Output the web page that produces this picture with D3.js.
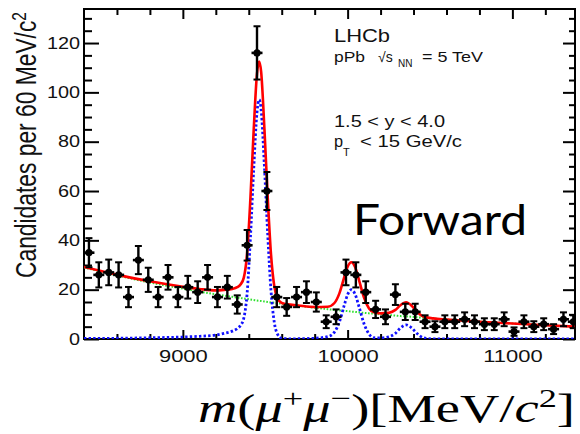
<!DOCTYPE html>
<html>
<head>
<meta charset="utf-8">
<script src="https://cdn.jsdelivr.net/npm/d3@7"></script>
<style>
  html, body { margin: 0; padding: 0; background: #fff; }
  svg { display: block; }
</style>
</head>
<body>
<svg id="chart" width="580" height="434"></svg>
<script>
/** Bin centres (60 MeV bins) of the dimuon mass histogram. */
const massBins = [8430, 8490, 8550, 8610, 8670, 8730, 8790, 8850, 8910, 8970,
  9030, 9090, 9150, 9210, 9270, 9330, 9390, 9450, 9510, 9570,
  9630, 9690, 9750, 9810, 9870, 9930, 9990, 10050, 10110, 10170,
  10230, 10290, 10350, 10410, 10470, 10530, 10590, 10650, 10710, 10770,
  10830, 10890, 10950, 11010, 11070, 11130, 11190, 11250, 11310, 11370];
/** Candidates per bin. */
const counts = [35, 26, 27, 26, 17, 32, 24, 17, 25, 17,
  21, 19, 25, 17, 21, 14, 38, 116, 60, 17,
  13, 17, 19, 15, 7, 9, 27, 26, 19, 12,
  9, 18, 11, 11, 7, 5, 7, 7, 8, 7,
  6, 6, 8, 3, 7, 5, 6, 4, 8, 7];
/** Error bar half-length per bin. */
const errors = [5.9, 5.1, 5.2, 5.1, 4.1, 5.7, 4.9, 4.1, 5.0, 4.1,
  4.6, 4.4, 5.0, 4.1, 4.6, 3.7, 6.2, 10.8, 7.7, 4.1,
  3.6, 4.1, 4.4, 3.9, 2.6, 3.0, 5.2, 5.1, 4.4, 3.5,
  3.0, 4.2, 3.3, 3.3, 2.6, 2.2, 2.6, 2.6, 2.8, 2.6,
  2.4, 2.4, 2.8, 1.7, 2.6, 2.2, 2.4, 2.0, 2.8, 2.6];

const fitMass = [8400, 8600, 8800, 9000, 9100, 9200, 9250, 9300, 9330, 9350,
  9370, 9390, 9410, 9430, 9450, 9463, 9475, 9495, 9515, 9535,
  9555, 9575, 9600, 9650, 9700, 9800, 9880, 9920, 9950, 9980,
  10000, 10023, 10045, 10070, 10100, 10130, 10160, 10200, 10250, 10290,
  10320, 10355, 10390, 10420, 10460, 10520, 10600, 10800, 11000, 11200, 11380];
/** Combinatorial background (green dotted). */
const fitBackground = [29.0, 25.8, 22.9, 20.4, 19.2, 18.1, 17.6, 17.1, 16.8, 16.6,
  16.4, 16.2, 16.0, 15.8, 15.6, 15.5, 15.4, 15.2, 15.0, 14.8,
  14.7, 14.5, 14.3, 13.9, 13.5, 12.7, 12.1, 11.8, 11.6, 11.4,
  11.3, 11.1, 11.0, 10.8, 10.6, 10.4, 10.3, 10.0, 9.7, 9.5,
  9.3, 9.2, 9.0, 8.8, 8.6, 8.3, 7.9, 7.0, 6.3, 5.6, 5.0];
/** Upsilon(1S,2S,3S) signal (blue dotted). */
const fitSignal = [0.2, 0.3, 0.5, 0.8, 1.1, 1.6, 2.3, 3.2, 4.2, 5.5,
  8.5, 18.5, 41, 69, 92, 97, 93, 70, 42.5, 19.5,
  6.7, 1.9, 0.3, 0.05, 0.1, 0.3, 1.0, 2.8, 6.9, 13.8,
  18, 20, 18.2, 12.9, 6.1, 2.0, 0.5, 0.4, 0.9, 2.3,
  4.4, 5.7, 4.4, 2.3, 0.5, 0.05, 0, 0, 0, 0, 0];
/** Total fit (red). */
const fitTotal = [29.2, 26.1, 23.4, 21.2, 20.3, 19.7, 19.9, 20.3, 21.0, 22.1,
  24.9, 34.7, 57.0, 84.8, 107.6, 112.5, 108.4, 85.2, 57.5, 34.3,
  21.4, 16.4, 14.6, 13.95, 13.6, 13.0, 13.1, 14.6, 18.5, 25.2,
  29.3, 31.1, 29.2, 23.7, 16.7, 12.4, 10.8, 10.4, 10.6, 11.8,
  13.7, 14.9, 13.4, 11.1, 9.1, 8.35, 7.9, 7.0, 6.3, 5.6, 5.0];

/** Axis tick labels. */
const xTickLabels = [9000, 10000, 11000];
const yTickLabels = [0, 20, 40, 60, 80, 100, 120];

const svg = d3.select("#chart");
const sans = "'Liberation Sans', Arial, sans-serif";
const frame = { left: 84, right: 575, top: 9, bottom: 339 };

const x = d3.scaleLinear().domain([8400, 11380]).range([frame.left, frame.right]);
const y = d3.scaleLinear().domain([0, 133.8]).range([frame.bottom, frame.top]);

/** Stretch text horizontally (the original picture was widened). */
function widen(sel, k) {
  sel.each(function () {
    const w = this.getComputedTextLength();
    this.setAttribute("textLength", w * k);
    this.setAttribute("lengthAdjust", "spacingAndGlyphs");
  });
}
function fitWidth(sel, w) {
  sel.attr("textLength", w).attr("lengthAdjust", "spacingAndGlyphs");
}

const xMinor = d3.range(8600, 11380, 200).filter((v) => v % 1000 !== 0);
const yMinor = d3.range(5, 134, 5).filter((v) => v % 20 !== 0);

function styleAxis(g) {
  g.select(".domain").remove();
  g.selectAll("line").attr("stroke", "#000").attr("stroke-width", 2);
}

// left
svg.append("g").attr("transform", `translate(${frame.left},0)`)
  .call(d3.axisLeft(y).tickValues(yMinor).tickSize(-8).tickFormat(""))
  .call(styleAxis);
const gLeft = svg.append("g").attr("transform", `translate(${frame.left},0)`)
  .call(d3.axisLeft(y).tickValues(yTickLabels).tickSize(-15).tickPadding(4))
  .call(styleAxis);
gLeft.selectAll("text").attr("font-family", sans).attr("font-size", 16).attr("fill", "#111")
  .call(widen, 1.24);

// right
svg.append("g").attr("transform", `translate(${frame.right},0)`)
  .call(d3.axisRight(y).tickValues(yMinor).tickSize(-6).tickFormat(""))
  .call(styleAxis);
svg.append("g").attr("transform", `translate(${frame.right},0)`)
  .call(d3.axisRight(y).tickValues(yTickLabels).tickSize(-12).tickFormat(""))
  .call(styleAxis);

// bottom
svg.append("g").attr("transform", `translate(0,${frame.bottom})`)
  .call(d3.axisBottom(x).tickValues(xMinor).tickSize(-5).tickFormat(""))
  .call(styleAxis);
const gBottom = svg.append("g").attr("transform", `translate(0,${frame.bottom})`)
  .call(d3.axisBottom(x).tickValues(xTickLabels).tickSize(-9).tickPadding(11).tickFormat(d3.format("d")))
  .call(styleAxis);
gBottom.selectAll("text").attr("font-family", sans).attr("font-size", 16.5).attr("fill", "#111")
  .call(widen, 1.33);

// top
svg.append("g").attr("transform", `translate(0,${frame.top})`)
  .call(d3.axisTop(x).tickValues(xMinor).tickSize(-6).tickFormat(""))
  .call(styleAxis);
svg.append("g").attr("transform", `translate(0,${frame.top})`)
  .call(d3.axisTop(x).tickValues(xTickLabels).tickSize(-10).tickFormat(""))
  .call(styleAxis);

// frame
svg.append("rect")
  .attr("x", frame.left).attr("y", frame.top)
  .attr("width", frame.right - frame.left).attr("height", frame.bottom - frame.top)
  .attr("fill", "none").attr("stroke", "#000").attr("stroke-width", 2);

svg.append("clipPath").attr("id", "plotClip").append("rect")
  .attr("x", frame.left).attr("y", frame.top - 2)
  .attr("width", frame.right - frame.left).attr("height", frame.bottom - frame.top + 2);

const plot = svg.append("g").attr("clip-path", "url(#plotClip)");

function curve(values) {
  return d3.line()
    .x((d, i) => x(fitMass[i]))
    .y((d) => y(d))
    .curve(d3.curveMonotoneX)(values);
}

plot.append("path").attr("d", curve(fitBackground))
  .attr("fill", "none").attr("stroke", "#2fe02f").attr("stroke-width", 2)
  .attr("stroke-dasharray", "1.6,1.6");
plot.append("path").attr("d", curve(fitSignal))
  .attr("fill", "none").attr("stroke", "#1010ff").attr("stroke-width", 2.8)
  .attr("stroke-dasharray", "2.4,2.2");
plot.append("path").attr("d", curve(fitTotal))
  .attr("fill", "none").attr("stroke", "#ff0000").attr("stroke-width", 2.6);

// data points with error bars
const pts = plot.append("g").selectAll("g")
  .data(massBins.map((m, i) => ({ m, n: counts[i], e: errors[i] })))
  .join("g")
  .attr("transform", (d) => `translate(${x(d.m)},0)`);
pts.append("line")
  .attr("y1", (d) => y(d.n - d.e)).attr("y2", (d) => y(d.n + d.e))
  .attr("stroke", "#000").attr("stroke-width", 2.4);
pts.append("line")
  .attr("x1", -3.5).attr("x2", 3.5)
  .attr("y1", (d) => y(d.n + d.e)).attr("y2", (d) => y(d.n + d.e))
  .attr("stroke", "#000").attr("stroke-width", 2);
pts.append("line")
  .attr("x1", -3.5).attr("x2", 3.5)
  .attr("y1", (d) => y(d.n - d.e)).attr("y2", (d) => y(d.n - d.e))
  .attr("stroke", "#000").attr("stroke-width", 2);
pts.append("line")
  .attr("x1", -5.5).attr("x2", 5.5)
  .attr("y1", (d) => y(d.n)).attr("y2", (d) => y(d.n))
  .attr("stroke", "#000").attr("stroke-width", 2.6);
pts.append("circle")
  .attr("cy", (d) => y(d.n)).attr("r", 3.6).attr("fill", "#000");

// y-axis title
const yTitle = svg.append("text")
  .attr("transform", "translate(36,278) rotate(-90) scale(1,1.3)")
  .attr("font-family", sans).attr("font-size", 22).attr("fill", "#111");
yTitle.append("tspan").text("Candidates per 60 MeV/c");
yTitle.append("tspan").attr("font-size", 15).attr("dy", -8).text("2");
fitWidth(yTitle, 266);

// legend texts
fitWidth(svg.append("text").attr("x", 334).attr("y", 41.5)
  .attr("font-family", sans).attr("font-size", 18.5).attr("fill", "#111").text("LHCb"), 56);
fitWidth(svg.append("text").attr("x", 334).attr("y", 62)
  .attr("font-family", sans).attr("font-size", 14).attr("fill", "#111").text("pPb"), 31);
svg.append("text").attr("x", 378).attr("y", 62)
  .attr("font-family", sans).attr("font-size", 14).attr("fill", "#111").text("√s");
svg.append("text").attr("x", 398).attr("y", 67)
  .attr("font-family", sans).attr("font-size", 10).attr("fill", "#111").text("NN");
fitWidth(svg.append("text").attr("x", 422).attr("y", 62)
  .attr("font-family", sans).attr("font-size", 14).attr("fill", "#111").text("= 5 TeV"), 61);
fitWidth(svg.append("text").attr("x", 334).attr("y", 127)
  .attr("font-family", sans).attr("font-size", 16.3).attr("fill", "#111").text("1.5 < y < 4.0"), 111);
svg.append("text").attr("x", 334).attr("y", 147)
  .attr("font-family", sans).attr("font-size", 16.3).attr("fill", "#111").text("p");
svg.append("text").attr("x", 343).attr("y", 156)
  .attr("font-family", sans).attr("font-size", 11).attr("fill", "#111").text("T");
fitWidth(svg.append("text").attr("x", 360).attr("y", 147)
  .attr("font-family", sans).attr("font-size", 16.3).attr("fill", "#111").text("< 15 GeV/c"), 102);

// "Forward" overlay label
fitWidth(svg.append("text").attr("x", 353).attr("y", 235)
  .attr("font-family", "Lato, 'Open Sans', sans-serif").attr("font-size", 43)
  .attr("fill", "#000").text("Forward"), 174);

// x-axis title
const xTitle = svg.append("text").attr("x", 198).attr("y", 422)
  .attr("font-family", "'Liberation Serif', 'DejaVu Serif', serif")
  .attr("font-size", 39).attr("fill", "#000");
xTitle.append("tspan").attr("font-style", "italic").text("m");
xTitle.append("tspan").text("(");
xTitle.append("tspan").attr("font-style", "italic").text("μ");
xTitle.append("tspan").attr("font-size", 26).attr("dy", -15).text("+");
xTitle.append("tspan").attr("font-style", "italic").attr("dy", 15).text("μ");
xTitle.append("tspan").attr("font-size", 26).attr("dy", -15).text("−");
xTitle.append("tspan").attr("dy", 15).text(")[MeV/");
xTitle.append("tspan").attr("font-style", "italic").text("c");
xTitle.append("tspan").attr("font-size", 26).attr("dy", -15).text("2");
xTitle.append("tspan").attr("dy", 15).text("]");
fitWidth(xTitle, 377);
</script>
</body>
</html>
